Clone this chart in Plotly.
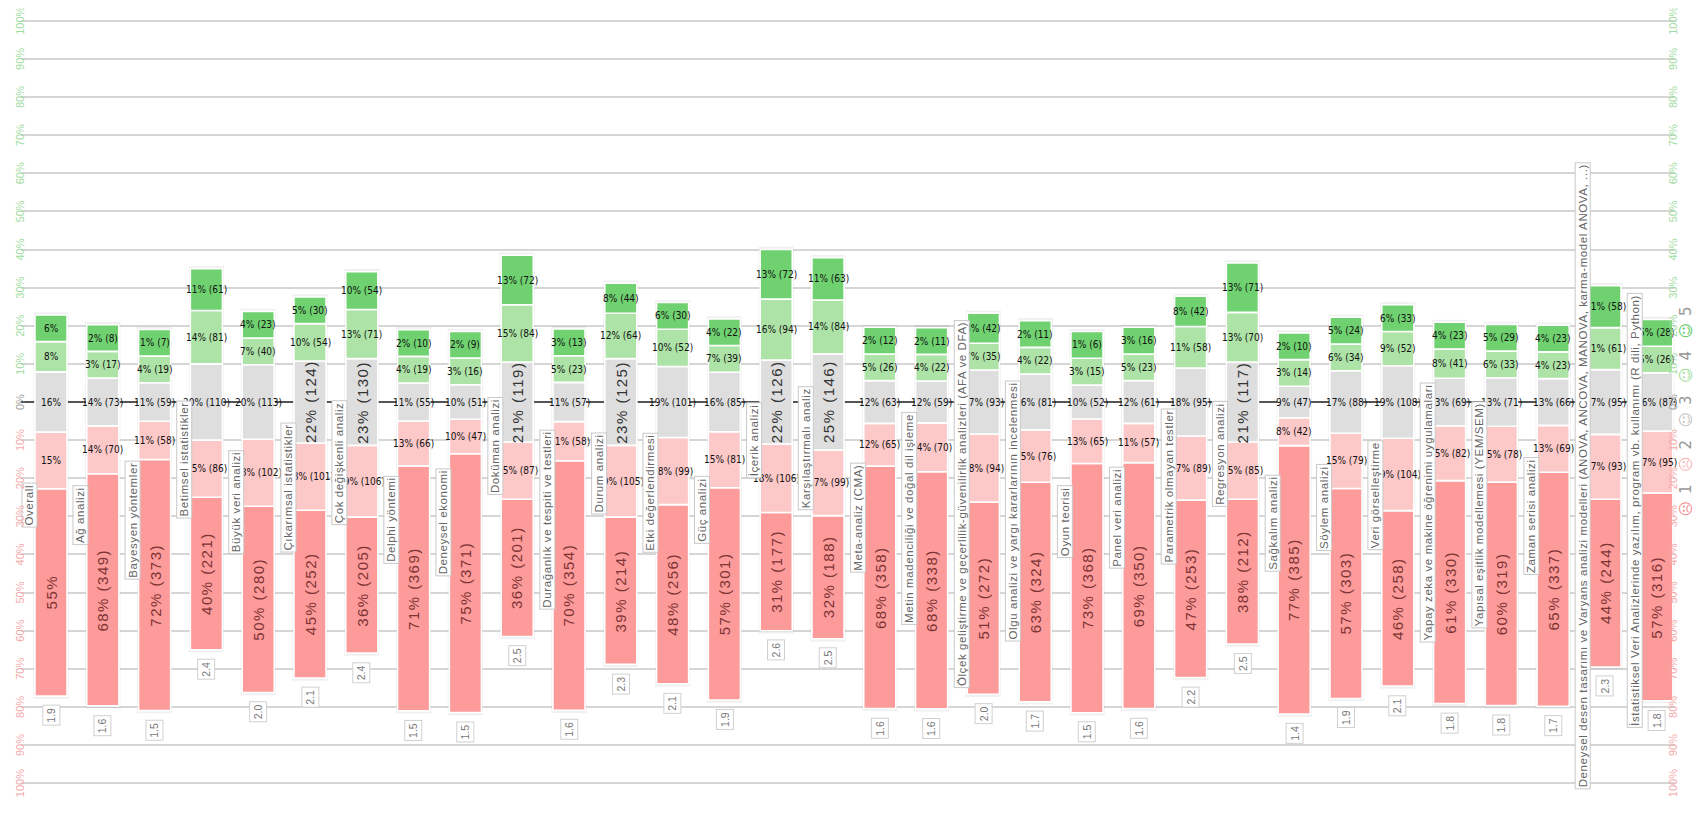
import plotly.graph_objects as go

categories = [
    "Overall", "Ağ analizi", "Bayesyen yöntemler", "Betimsel istatistikler",
    "Büyük veri analizi", "Çıkarımsal istatistikler", "Çok değişkenli analiz",
    "Delphi yöntemi", "Deneysel ekonomi", "Doküman analizi",
    "Durağanlık ve tespiti ve testleri", "Durum analizi", "Etki değerlendirmesi",
    "Güç analizi", "İçerik analizi", "Karşılaştırmalı analiz", "Meta-analiz (CMA)",
    "Metin madenciliği ve doğal dil işleme",
    "Ölçek geliştirme ve geçerlilik-güvenilirlik analizleri (AFA ve DFA)",
    "Olgu analizi ve yargı kararlarının incelenmesi", "Oyun teorisi",
    "Panel veri analizi", "Parametrik olmayan testler", "Regresyon analizi",
    "Sağkalım analizi", "Söylem analizi", "Veri görselleştirme",
    "Yapay zeka ve makine öğrenimi uygulamaları",
    "Yapısal eşitlik modellemesi (YEM/SEM)", "Zaman serisi analizi",
    "Deneysel desen tasarımı ve Varyans analizi modelleri (ANOVA, ANCOVA, MANOVA, karma-model ANOVA, ...)",
    "İstatistiksel Veri Analizlerinde yazılım, program vb. kullanımı (R dili, Python)",
]

# percentages per level (1 = lowest ... 5 = highest)
pct1 = [55, 68, 72, 40, 50, 45, 36, 71, 75, 36, 70, 39, 48, 57, 31, 32, 68, 68, 51, 63, 73, 69, 47, 38, 77, 57, 46, 61, 60, 65, 44, 57]
pct2 = [15, 14, 11, 15, 18, 18, 19, 13, 10, 15, 11, 19, 18, 15, 18, 17, 12, 14, 18, 15, 13, 11, 17, 15, 8, 15, 19, 15, 15, 13, 17, 17]
pct3 = [16, 14, 11, 20, 20, 22, 23, 11, 10, 21, 11, 23, 19, 16, 22, 25, 12, 12, 17, 16, 10, 12, 18, 21, 9, 17, 19, 13, 13, 13, 17, 16]
pct4 = [8, 3, 4, 14, 7, 10, 13, 4, 3, 15, 5, 12, 10, 7, 16, 14, 5, 4, 7, 4, 3, 5, 11, 13, 3, 6, 9, 8, 6, 4, 11, 5]
pct5 = [6, 2, 1, 11, 4, 5, 10, 2, 2, 13, 3, 8, 6, 4, 13, 11, 2, 2, 8, 2, 1, 3, 8, 13, 2, 5, 6, 4, 5, 4, 11, 5]

# respondent counts per level (None for Overall)
cnt1 = [None, 349, 373, 221, 280, 252, 205, 369, 371, 201, 354, 214, 256, 301, 177, 188, 358, 338, 272, 324, 368, 350, 253, 212, 385, 303, 258, 330, 319, 337, 244, 316]
cnt2 = [None, 70, 58, 86, 102, 101, 106, 66, 47, 87, 58, 105, 99, 81, 106, 99, 65, 70, 94, 76, 65, 57, 89, 85, 42, 79, 104, 82, 78, 69, 93, 95]
cnt3 = [None, 73, 59, 110, 113, 124, 130, 55, 51, 119, 57, 125, 101, 85, 126, 146, 63, 59, 93, 81, 52, 61, 95, 117, 47, 88, 108, 69, 71, 66, 95, 87]
cnt4 = [None, 17, 19, 81, 40, 54, 71, 19, 16, 84, 23, 64, 52, 39, 94, 84, 26, 22, 35, 22, 15, 23, 58, 70, 14, 34, 52, 41, 33, 23, 61, 26]
cnt5 = [None, 8, 7, 61, 23, 30, 54, 10, 9, 72, 13, 44, 30, 22, 72, 63, 12, 11, 42, 11, 6, 16, 42, 71, 10, 24, 33, 23, 29, 23, 58, 28]

means = ["1.9", "1.6", "1.5", "2.4", "2.0", "2.1", "2.4", "1.5", "1.5", "2.5", "1.6", "2.3",
         "2.1", "1.9", "2.6", "2.5", "1.6", "1.6", "2.0", "1.7", "1.5", "1.6", "2.2", "2.5",
         "1.4", "1.9", "2.1", "1.8", "1.8", "1.7", "2.3", "1.8"]

tick_vals = list(range(-100, 101, 10))

colors = {1: "#fd9a9a", 2: "#fdc8c8", 3: "#dedede", 4: "#ade3a6", 5: "#6fd16f"}

MIN_SEG = 7.0  # smallest drawn segment (in % units) so that its label fits

n = len(categories)
xs = list(range(n))
pcts = {1: pct1, 2: pct2, 3: pct3, 4: pct4, 5: pct5}
counts = {1: cnt1, 2: cnt2, 3: cnt3, 4: cnt4, 5: cnt5}


def drawn_sizes(vals):
    """Segments below MIN_SEG are enlarged, the others shrink to keep a 100% total."""
    fixed = set()
    while True:
        free = [j for j in range(len(vals)) if j not in fixed]
        rest = 100.0 - MIN_SEG * len(fixed)
        s = sum(vals[j] for j in free)
        out = [MIN_SEG if j in fixed else vals[j] * rest / s for j in range(len(vals))]
        new = {j for j in free if out[j] < MIN_SEG}
        if not new:
            return out
        fixed |= new


heights = {k: [] for k in range(1, 6)}
bases = {k: [] for k in range(1, 6)}
tops, bottoms = [], []
for i in xs:
    h = drawn_sizes([pcts[k][i] for k in range(1, 6)])
    for k in range(1, 6):
        heights[k].append(h[k - 1])
    b3 = -h[2] / 2
    b2 = b3 - h[1]
    b1 = b2 - h[0]
    b4 = h[2] / 2
    b5 = b4 + h[3]
    for k, b in zip(range(1, 6), (b1, b2, b3, b4, b5)):
        bases[k].append(b)
    tops.append(b5 + h[4])
    bottoms.append(b1)

fig = go.Figure()

BW = 0.62
# soft shadow behind each bar
fig.add_trace(go.Bar(
    x=xs, y=[t - b + 1.4 for t, b in zip(tops, bottoms)], base=[b - 0.7 for b in bottoms],
    width=BW + 0.06, marker=dict(color="rgba(0,0,0,0.06)", line=dict(width=0)),
    hoverinfo="skip", showlegend=False))

for k in range(1, 6):
    fig.add_trace(go.Bar(
        x=xs, y=heights[k], base=bases[k], width=BW,
        marker=dict(color=colors[k], line=dict(color="white", width=1.6)),
        name=str(k), showlegend=False, hoverinfo="skip"))

annotations = []
NARROW = "Liberation Sans Narrow, Arial Narrow, DejaVu Sans Condensed, sans-serif"
ARIAL = "Arial, Liberation Sans, sans-serif"
for i in xs:
    for k in range(1, 6):
        p = pcts[k][i]
        c = counts[k][i]
        txt = f"{p}%" if c is None else f"{p}% ({c})"
        yc = bases[k][i] + heights[k][i] / 2
        if p >= 21:
            col = "#7d3434" if k == 1 else "#333333"
            annotations.append(dict(
                x=i, y=yc, text=f'<span style="letter-spacing:1.5px">{txt}</span>',
                showarrow=False, textangle=-90,
                font=dict(family=ARIAL, size=15, color=col)))
        else:
            annotations.append(dict(
                x=i, y=yc, text=txt, showarrow=False,
                font=dict(family=NARROW, size=10, color="#111111")))
    # category label box, left of bar, centred on bar middle
    annotations.append(dict(
        x=i, y=(tops[i] + bottoms[i]) / 2, xshift=-22,
        text=f'<span style="letter-spacing:0.6px">{categories[i]}</span>',
        showarrow=False, textangle=-90, bgcolor="white", bordercolor="#c8c8c8",
        borderwidth=1, borderpad=1,
        font=dict(family=ARIAL, size=11.5, color="#666666")))
    # mean value box below bar
    annotations.append(dict(
        x=i, y=bottoms[i], yanchor="top", yshift=-9, text=means[i],
        showarrow=False, textangle=-90, bgcolor="white", bordercolor="#d0d0d0",
        borderwidth=1, borderpad=2,
        font=dict(family=ARIAL, size=10.5, color="#777777")))

# the page body adds an 8px margin: the figure is sized to fill the window exactly
PAGE = 8
FW, FH = 1704 - 2 * PAGE, 831 - 2 * PAGE
L, R, T, B = 13, 21, 9, 36
PW = FW - L - R
X0 = L + PAGE  # window pixel of the plot's left edge


def px_to_paper(px):
    return (px - X0) / PW


# percentage scale labels on both sides (rotated, coloured by direction)
def tick_color(v):
    return "#9fdc9f" if v > 0 else ("#f4aaaa" if v < 0 else "#a0a0a0")


for v in tick_vals:
    for px in (12, 1681):
        annotations.append(dict(
            x=px_to_paper(px), xref="paper", y=v, text=f"{abs(v)}%", showarrow=False,
            textangle=-90, font=dict(family=ARIAL, size=11, color=tick_color(v))))

# legend (rotated faces 1..5), right of the scale
legend_txt = ('<span style="color:#f28c8c">☹</span><span style="color:#999"> 1  </span>'
              '<span style="color:#f7b5b5">☹</span><span style="color:#999"> 2  </span>'
              '<span style="color:#c4c4c4">☺</span><span style="color:#999"> 3  </span>'
              '<span style="color:#9fdc98">☺</span><span style="color:#999"> 4  </span>'
              '<span style="color:#63c963">☺</span><span style="color:#999"> 5</span>')
annotations.append(dict(
    x=px_to_paper(1697), xref="paper", y=-2.5,
    text=f'<span style="letter-spacing:1px">{legend_txt}</span>', showarrow=False,
    textangle=-90, font=dict(family="DejaVu Sans, sans-serif", size=15)))

x_left_px, x_right_px = 21, 1675  # window pixels of the plot edges
fig.update_layout(
    width=FW, height=FH, barmode="overlay",
    margin=dict(l=L, r=R, t=T, b=B, autoexpand=False),
    paper_bgcolor="white", plot_bgcolor="white",
    xaxis=dict(range=[(x_left_px - 51) / 51.8, (x_right_px - 51) / 51.8], showticklabels=False,
               showgrid=False, zeroline=False, ticks="", fixedrange=True, automargin=False),
    yaxis=dict(range=[-101, 101], tickvals=tick_vals, showticklabels=False,
               showgrid=True, gridcolor="#d6d6d6", gridwidth=1.6, zeroline=True,
               zerolinecolor="#555555", zerolinewidth=1.5, ticks="", automargin=False,
               fixedrange=True),
    annotations=annotations,
    showlegend=False,
)

fig.write_html("out.html")
